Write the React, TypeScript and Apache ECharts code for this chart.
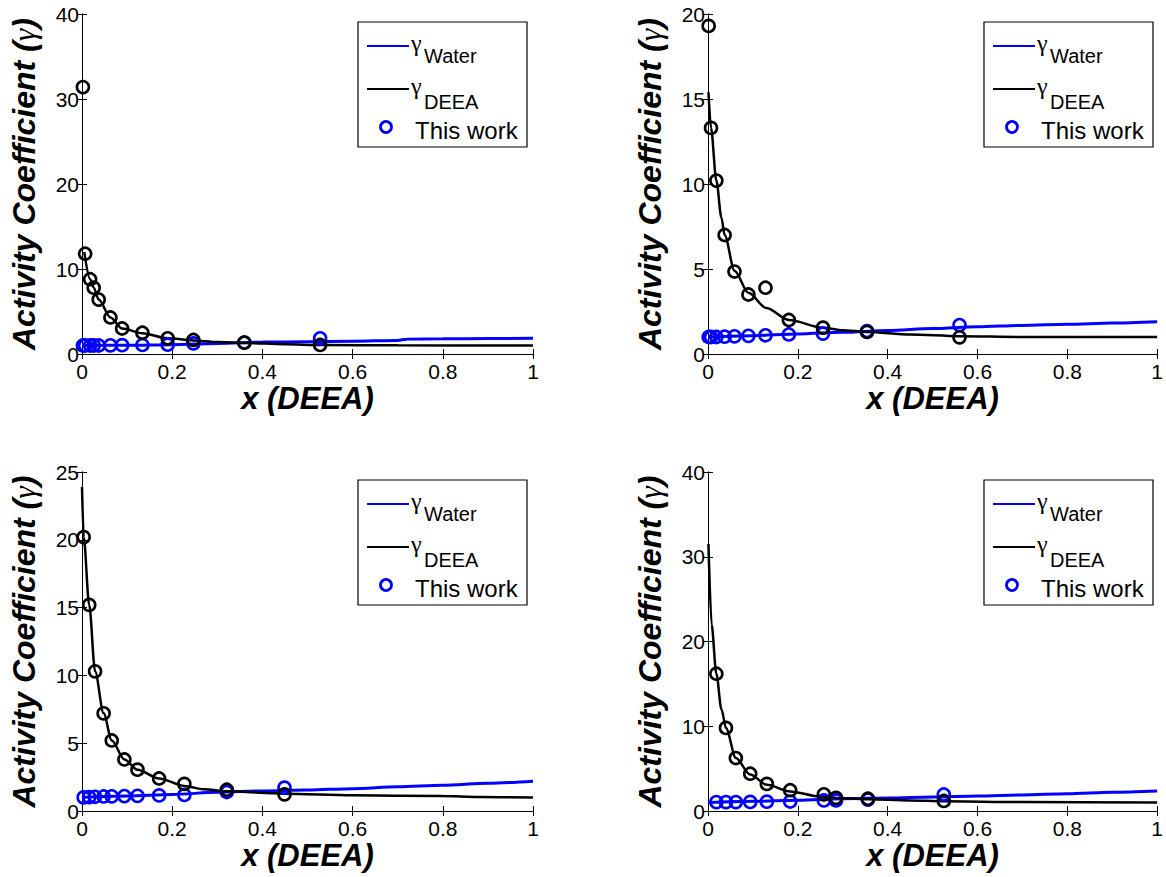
import React, { useEffect, useRef } from 'react';
import * as echarts from 'echarts';

// ---------- Data ----------
const xTickStep = 0.2;

// Panel A (top-left)
const expXA = [0.002, 0.007, 0.018, 0.026, 0.037, 0.063, 0.089, 0.134, 0.19, 0.247, 0.36, 0.528];
const expDeeaA = [31.4, 11.8, 8.8, 7.8, 6.4, 4.3, 3.0, 2.5, 1.85, 1.65, 1.33, 1.06];
const expWaterA = [1.0, 1.0, 1.0, 1.0, 1.0, 1.02, 1.04, 1.06, 1.1, 1.25, 1.35, 1.85];
const fitDeeaXA = [0.005, 0.018, 0.026, 0.037, 0.063, 0.089, 0.134, 0.19, 0.247, 0.3, 0.36, 0.45, 0.53, 0.7, 1.0];
const fitDeeaYA = [12.0, 8.8, 7.8, 6.4, 4.3, 3.0, 2.45, 1.85, 1.6, 1.4, 1.3, 1.15, 1.05, 1.02, 1.0];
const fitWaterXA = [0, 0.1, 0.2, 0.3, 0.4, 0.5, 0.6, 0.7, 0.72, 0.8, 0.9, 1.0];
const fitWaterYA = [1.0, 1.03, 1.1, 1.25, 1.4, 1.45, 1.5, 1.6, 1.75, 1.78, 1.82, 1.85];
const yMaxA = 40;
const yStepA = 10;

// Panel B (top-right)
const expXB = [0.0015, 0.0067, 0.0186, 0.037, 0.059, 0.09, 0.128, 0.18, 0.256, 0.354, 0.56];
const expDeeaB = [19.3, 13.3, 10.2, 7.0, 4.85, 3.5, 3.9, 2.0, 1.55, 1.3, 0.98];
const expWaterB = [1.0, 1.0, 1.0, 1.02, 1.04, 1.07, 1.1, 1.15, 1.2, 1.35, 1.7];
const fitDeeaXB = [0.001, 0.0067, 0.0186, 0.03, 0.037, 0.059, 0.09, 0.13, 0.18, 0.256, 0.3, 0.354, 0.45, 0.56, 0.7, 1.0];
const fitDeeaYB = [15.4, 13.3, 10.2, 8.0, 7.0, 4.9, 3.6, 2.7, 2.0, 1.55, 1.4, 1.3, 1.15, 1.05, 1.0, 1.0];
const fitWaterXB = [0, 0.1, 0.2, 0.3, 0.4, 0.5, 0.6, 0.7, 0.8, 0.9, 1.0];
const fitWaterYB = [1.0, 1.08, 1.18, 1.28, 1.38, 1.5, 1.6, 1.68, 1.75, 1.82, 1.9];
const yMaxB = 20;
const yStepB = 5;

// Panel C (bottom-left)
const expXC = [0.0037, 0.016, 0.029, 0.048, 0.066, 0.094, 0.123, 0.171, 0.227, 0.321, 0.449];
const expDeeaC = [20.2, 15.2, 10.3, 7.2, 5.2, 3.8, 3.05, 2.4, 2.0, 1.57, 1.23];
const expWaterC = [1.0, 1.02, 1.05, 1.07, 1.08, 1.1, 1.12, 1.15, 1.18, 1.4, 1.72];
const fitDeeaXC = [0, 0.0037, 0.016, 0.029, 0.048, 0.066, 0.094, 0.123, 0.171, 0.227, 0.27, 0.321, 0.449, 0.6, 0.8, 0.88, 1.0];
const fitDeeaYC = [23.9, 20.2, 15.2, 10.3, 7.2, 5.2, 3.8, 3.05, 2.4, 1.85, 1.6, 1.45, 1.28, 1.16, 1.1, 1.03, 1.0];
const fitWaterXC = [0, 0.1, 0.2, 0.3, 0.4, 0.5, 0.6, 0.7, 0.8, 0.9, 1.0];
const fitWaterYC = [1.0, 1.1, 1.22, 1.38, 1.48, 1.55, 1.65, 1.78, 1.9, 2.05, 2.2];
const yMaxC = 25;
const yStepC = 5;

// Panel D (bottom-right)
const expXD = [0.0186, 0.04, 0.062, 0.094, 0.131, 0.183, 0.258, 0.285, 0.356, 0.525];
const expDeeaD = [16.2, 9.8, 6.25, 4.4, 3.2, 2.45, 1.97, 1.55, 1.45, 1.18];
const expWaterD = [1.05, 1.05, 1.05, 1.07, 1.1, 1.12, 1.25, 1.25, 1.35, 1.95];
const fitDeeaXD = [0.001, 0.008, 0.0186, 0.03, 0.04, 0.062, 0.094, 0.131, 0.183, 0.25, 0.3, 0.356, 0.45, 0.525, 0.7, 1.0];
const fitDeeaYD = [31.5, 22.0, 16.2, 12.0, 9.8, 6.25, 4.3, 3.1, 2.3, 1.7, 1.5, 1.4, 1.25, 1.15, 1.05, 1.0];
const fitWaterXD = [0, 0.1, 0.2, 0.3, 0.4, 0.5, 0.6, 0.7, 0.8, 0.9, 1.0];
const fitWaterYD = [1.0, 1.14, 1.26, 1.45, 1.53, 1.65, 1.77, 1.9, 2.04, 2.2, 2.35];
const yMaxD = 40;
const yStepD = 10;

const xAxisTitle = 'x (DEEA)';
const yAxisTitle = 'Activity Coefficient ({g|γ})';
const legendWater = 'Water';
const legendDeea = 'DEEA';
const legendExp = 'This work';

// ---------- Layout / style ----------
const FONT = '"Liberation Sans", Arial, Helvetica, sans-serif';
const SERIF = '"Liberation Serif", "DejaVu Serif", serif';
const BLUE = '#0000ff';
const BLACK = '#000000';

const gridBoxes = [
  { left: 82, top: 14, width: 451, height: 340 },
  { left: 708, top: 14, width: 451, height: 340 },
  { left: 82, top: 472, width: 451, height: 339 },
  { left: 708, top: 472, width: 451, height: 339 },
];

const zip = (xs: number[], ys: number[]) => xs.map((x, i) => [x, ys[i]]);

const panels = [
  { ex: expXA, ed: expDeeaA, ew: expWaterA, fdx: fitDeeaXA, fdy: fitDeeaYA, fwx: fitWaterXA, fwy: fitWaterYA, yMax: yMaxA, yStep: yStepA },
  { ex: expXB, ed: expDeeaB, ew: expWaterB, fdx: fitDeeaXB, fdy: fitDeeaYB, fwx: fitWaterXB, fwy: fitWaterYB, yMax: yMaxB, yStep: yStepB },
  { ex: expXC, ed: expDeeaC, ew: expWaterC, fdx: fitDeeaXC, fdy: fitDeeaYC, fwx: fitWaterXC, fwy: fitWaterYC, yMax: yMaxC, yStep: yStepC },
  { ex: expXD, ed: expDeeaD, ew: expWaterD, fdx: fitDeeaXD, fdy: fitDeeaYD, fwx: fitWaterXD, fwy: fitWaterYD, yMax: yMaxD, yStep: yStepD },
];

function buildOption() {
  const grid: any[] = [];
  const xAxis: any[] = [];
  const yAxis: any[] = [];
  const series: any[] = [];
  const graphic: any[] = [];

  const axisLine = { show: true, lineStyle: { color: BLACK, width: 1 } };
  const axisTick = { show: true, inside: true, length: 5, lineStyle: { color: BLACK, width: 1 } };
  const labelStyle = { color: BLACK, fontSize: 21, fontFamily: FONT };
  const nameStyle = { color: BLACK, fontSize: 31, fontFamily: FONT, fontWeight: 'bold', fontStyle: 'italic' };

  panels.forEach((p, i) => {
    const g = gridBoxes[i];
    grid.push({ ...g, containLabel: false, show: false });
    xAxis.push({
      type: 'value', gridIndex: i, min: 0, max: 1, interval: xTickStep, position: 'bottom',
      axisLine, axisTick, splitLine: { show: false },
      axisLabel: { ...labelStyle, margin: 7, showMaxLabel: true, showMinLabel: true },
      name: xAxisTitle, nameLocation: 'middle', nameGap: 29, nameTextStyle: nameStyle,
    });
    yAxis.push({
      type: 'value', gridIndex: i, min: 0, max: p.yMax, interval: p.yStep, position: 'left',
      axisLine, axisTick, splitLine: { show: false },
      axisLabel: { ...labelStyle, margin: 3 },
      name: yAxisTitle, nameLocation: 'middle', nameRotate: 90, nameGap: 42,
      nameTextStyle: {
        ...nameStyle,
        fontSize: 32,
        rich: { g: { fontFamily: SERIF, fontStyle: 'italic', fontWeight: 'normal', fontSize: 32, color: BLACK } },
      },
    });
  });
  panels.forEach((p, i) => {
    xAxis.push({
      type: 'value', gridIndex: i, min: 0, max: 1, interval: xTickStep, position: 'top',
      axisLine, axisTick, splitLine: { show: false }, axisLabel: { show: false },
    });
    yAxis.push({
      type: 'value', gridIndex: i, min: 0, max: p.yMax, interval: p.yStep, position: 'right',
      axisLine, axisTick, splitLine: { show: false }, axisLabel: { show: false },
    });
  });

  panels.forEach((p, i) => {
    series.push({
      type: 'line', xAxisIndex: i, yAxisIndex: i, data: zip(p.fwx, p.fwy),
      showSymbol: false, smooth: 0.3, smoothMonotone: 'x',
      lineStyle: { color: BLUE, width: 3 }, z: 2,
    });
    series.push({
      type: 'line', xAxisIndex: i, yAxisIndex: i, data: zip(p.fdx, p.fdy),
      showSymbol: false, smooth: 0.3, smoothMonotone: 'x',
      lineStyle: { color: BLACK, width: 2.5 }, z: 3,
    });
    series.push({
      type: 'scatter', xAxisIndex: i, yAxisIndex: i, data: zip(p.ex, p.ew),
      symbol: 'circle', symbolSize: 12,
      itemStyle: { color: 'rgba(0,0,0,0)', borderColor: BLUE, borderWidth: 2.6, opacity: 1 }, z: 4,
    });
    series.push({
      type: 'scatter', xAxisIndex: i, yAxisIndex: i, data: zip(p.ex, p.ed),
      symbol: 'circle', symbolSize: 12,
      itemStyle: { color: 'rgba(0,0,0,0)', borderColor: BLACK, borderWidth: 2.6, opacity: 1 }, z: 5,
    });

    const g = gridBoxes[i];
    const W = 169, H = 125;
    const L = g.left + g.width - 6 - W;
    const T = g.top + 8;
    graphic.push({ type: 'rect', z: 100, shape: { x: L, y: T, width: W, height: H }, style: { fill: '#fff', stroke: BLACK, lineWidth: 1.2 } });
    graphic.push({ type: 'line', z: 101, shape: { x1: L + 9, y1: T + 24, x2: L + 51, y2: T + 24 }, style: { stroke: BLUE, lineWidth: 2 } });
    graphic.push({ type: 'text', z: 101, x: L + 53, y: T + 21, style: { text: 'γ', fontSize: 24, fontFamily: SERIF, fill: BLACK, verticalAlign: 'middle', align: 'left' } });
    graphic.push({ type: 'text', z: 101, x: L + 66, y: T + 34, style: { text: legendWater, fontSize: 20, fontFamily: FONT, fill: BLACK, verticalAlign: 'middle', align: 'left' } });
    graphic.push({ type: 'line', z: 101, shape: { x1: L + 9, y1: T + 67, x2: L + 51, y2: T + 67 }, style: { stroke: BLACK, lineWidth: 2 } });
    graphic.push({ type: 'text', z: 101, x: L + 53, y: T + 64, style: { text: 'γ', fontSize: 24, fontFamily: SERIF, fill: BLACK, verticalAlign: 'middle', align: 'left' } });
    graphic.push({ type: 'text', z: 101, x: L + 66, y: T + 80, style: { text: legendDeea, fontSize: 20, fontFamily: FONT, fill: BLACK, verticalAlign: 'middle', align: 'left' } });
    graphic.push({ type: 'circle', z: 101, shape: { cx: L + 28, cy: T + 105, r: 5.5 }, style: { fill: 'none', stroke: BLUE, lineWidth: 2.8 } });
    graphic.push({ type: 'text', z: 101, x: L + 57, y: T + 108, style: { text: legendExp, fontSize: 24, fontFamily: FONT, fill: BLACK, verticalAlign: 'middle', align: 'left' } });
  });

  return {
    animation: false,
    backgroundColor: '#ffffff',
    textStyle: { fontFamily: FONT },
    grid, xAxis, yAxis, series, graphic,
  };
}

export default function App() {
  const ref = useRef<HTMLDivElement>(null);
  useEffect(() => {
    if (!ref.current) return;
    const chart = echarts.init(ref.current, undefined, { renderer: 'svg' });
    chart.setOption(buildOption() as any);
    return () => chart.dispose();
  }, []);
  return (
    <div
      ref={ref}
      style={{ position: 'absolute', left: 0, top: 0, width: 1166, height: 877, background: '#fff' }}
    />
  );
}
